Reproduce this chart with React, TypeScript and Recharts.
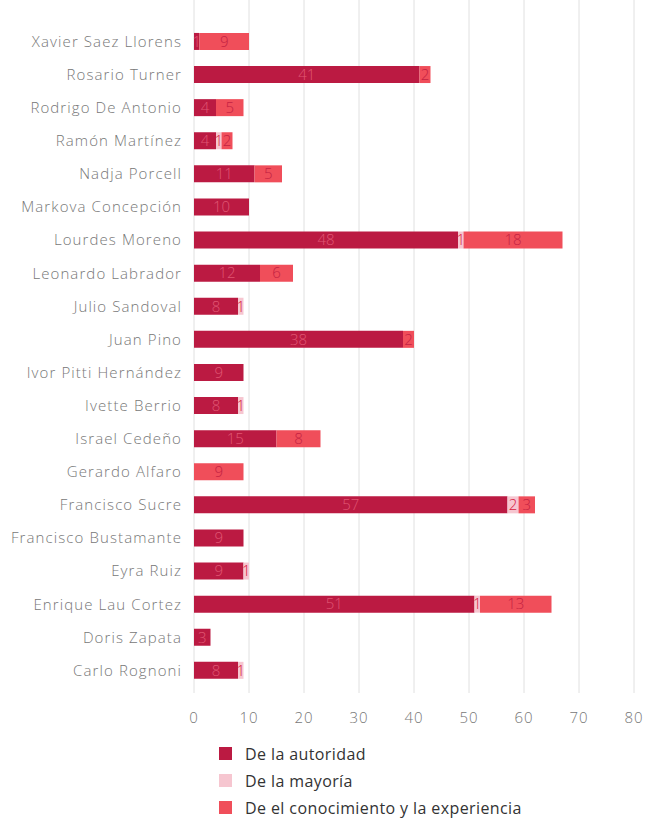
import { BarChart, Bar, XAxis, YAxis, CartesianGrid, LabelList } from 'recharts';

const names = [
  'Xavier Saez Llorens',
  'Rosario Turner',
  'Rodrigo De Antonio',
  'Ramón Martínez',
  'Nadja Porcell',
  'Markova Concepción',
  'Lourdes Moreno',
  'Leonardo Labrador',
  'Julio Sandoval',
  'Juan Pino',
  'Ivor Pitti Hernández',
  'Ivette Berrio',
  'Israel Cedeño',
  'Gerardo Alfaro',
  'Francisco Sucre',
  'Francisco Bustamante',
  'Eyra Ruiz',
  'Enrique Lau Cortez',
  'Doris Zapata',
  'Carlo Rognoni',
];

const autoridad = [1, 41, 4, 4, 11, 10, 48, 12, 8, 38, 9, 8, 15, 0, 57, 9, 9, 51, 3, 8];
const mayoria = [0, 0, 0, 1, 0, 0, 1, 0, 1, 0, 0, 1, 0, 0, 2, 0, 1, 1, 0, 1];
const conocimiento = [9, 2, 5, 2, 5, 0, 18, 6, 0, 2, 0, 0, 8, 9, 3, 0, 0, 13, 0, 0];

const xTicks = [0, 10, 20, 30, 40, 50, 60, 70, 80];

const series = [
  { key: 'autoridad', label: 'De la autoridad', color: '#bb1a42', text: '#e05672' },
  { key: 'mayoria', label: 'De la mayoría', color: '#f6c6d0', text: '#d8203f' },
  { key: 'conocimiento', label: 'De el conocimiento y la experiencia', color: '#f04e5a', text: '#c42242' },
];

const data = names.map((name, i) => ({
  name,
  autoridad: autoridad[i],
  mayoria: mayoria[i],
  conocimiento: conocimiento[i],
}));

const font = '"Open Sans", Roboto, sans-serif';
const hideZero = (v: any) => (v === 0 ? '' : v);

export default function App() {
  return (
    <div style={{ position: 'absolute', left: 0, top: 0, width: 645, height: 818, fontFamily: font }}>
      <BarChart
        width={645}
        height={730}
        data={data}
        layout="vertical"
        margin={{ top: 0, right: 11, left: 0, bottom: 0 }}
        barCategoryGap="24%"
      >
        <CartesianGrid horizontal={false} stroke="#e0e0e0" />
        <XAxis
          type="number"
          domain={[0, 80]}
          ticks={xTicks}
          axisLine={false}
          tickLine={false}
          tickSize={0}
          tickMargin={19}
          height={37}
          tick={{ fill: '#777', fontSize: 15, fontWeight: 300, fontFamily: font, letterSpacing: 1 }}
        />
        <YAxis
          type="category"
          dataKey="name"
          width={194}
          axisLine={false}
          tickLine={false}
          tickSize={0}
          tickMargin={12}
          interval={0}
          padding={{ top: 25, bottom: 6 }}
          tick={{ fill: '#777', fontSize: 15, fontWeight: 300, fontFamily: font, letterSpacing: 1.1 }}
        />
        {series.map((s) => (
          <Bar key={s.key} dataKey={s.key} stackId="a" fill={s.color} isAnimationActive={false}>
            <LabelList
              dataKey={s.key}
              position="center"
              formatter={hideZero}
              fill={s.text}
              fontSize={15}
              fontWeight={300}
              fontFamily={font}
            />
          </Bar>
        ))}
      </BarChart>
      <div style={{ paddingLeft: 219, marginTop: 10 }}>
        {series.map((s) => (
          <div key={s.key} style={{ display: 'flex', alignItems: 'center', height: 27 }}>
            <span style={{ width: 13, height: 13, background: s.color, display: 'inline-block', marginRight: 13 }} />
            <span style={{ fontSize: 16, color: '#333', letterSpacing: 0.4 }}>{s.label}</span>
          </div>
        ))}
      </div>
    </div>
  );
}
